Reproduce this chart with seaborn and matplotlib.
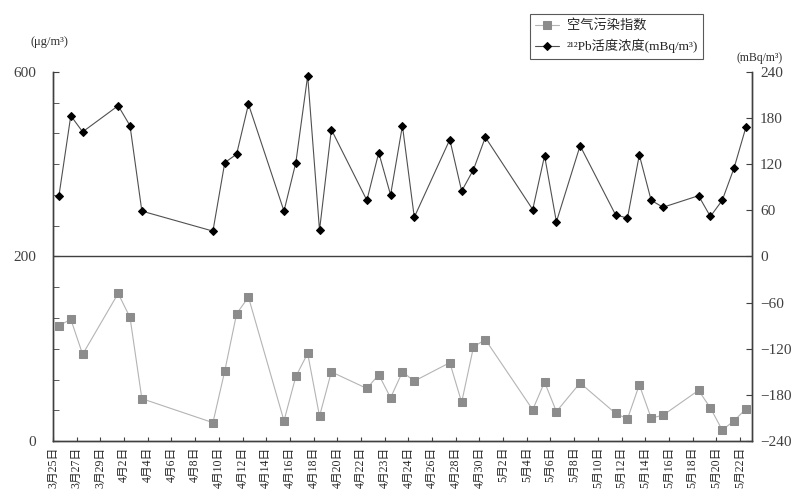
import seaborn as sns
import pandas as pd
import matplotlib.pyplot as plt
from matplotlib.ticker import FixedLocator, MultipleLocator

# category labels on the x axis (every second category is labelled)
date_labels = ["3月25日", "3月27日", "3月29日", "4月2日", "4月4日", "4月6日", "4月8日",
               "4月10日", "4月12日", "4月14日", "4月16日", "4月18日", "4月20日", "4月22日",
               "4月23日", "4月24日", "4月26日", "4月28日", "4月30日", "5月2日", "5月4日",
               "5月6日", "5月8日", "5月10日", "5月12日", "5月14日", "5月16日", "5月18日",
               "5月20日", "5月22日"]
n_categories = 59

# category index of each sampling day
sample_idx = [0, 1, 2, 5, 6, 7, 13, 14, 15, 16, 19, 20, 21, 22, 23, 26, 27, 28, 29, 30,
              33, 34, 35, 36, 40, 41, 42, 44, 47, 48, 49, 50, 51, 54, 55, 56, 57, 58]

# air pollution index (ug/m3), left axis
air_index = [125, 132, 94, 160, 134, 46, 20, 76, 138, 156, 22, 70, 95, 27, 75, 57, 72, 47, 75, 65,
             85, 42, 102, 110, 34, 64, 32, 63, 30, 24, 61, 25, 28, 55, 36, 12, 22, 35]

# 212Pb activity concentration (mBq/m3), right axis
pb_conc = [79, 183, 162, 196, 170, 59, 33, 122, 133, 198, 59, 122, 235, 34, 165, 73, 135, 80, 170, 51,
           152, 85, 113, 155, 61, 131, 45, 144, 54, 50, 132, 73, 64, 79, 52, 73, 115, 168]

left_ticks = [0, 200, 400]
left_tick_labels = ["0", "200", "600"]
right_ticks = [-240, -180, -120, -60, 0, 60, 120, 180, 240]

df = pd.DataFrame({"x": [i + 0.5 for i in sample_idx], "air": air_index, "pb": pb_conc})

sns.set_style("ticks")
plt.rcParams["font.family"] = ["Liberation Serif", "Noto Sans CJK SC", "DejaVu Sans"]
plt.rcParams["axes.edgecolor"] = "#404040"

fig = plt.figure(figsize=(7.95, 4.99), dpi=100)
ax = fig.add_axes([0.0667, 0.116, 0.879, 0.74])
ax2 = ax.twinx()

ax.axhline(200, color="#404040", lw=1.0, zorder=1)

sns.lineplot(data=df, x="x", y="air", ax=ax, color="#b4b4b4", lw=0.8, marker="s",
             markersize=6, markerfacecolor="#8c8c8c", markeredgecolor="#8c8c8c",
             label="空气污染指数", legend=False)
sns.lineplot(data=df, x="x", y="pb", ax=ax2, color="#505050", lw=0.8, marker="D",
             markersize=4, markerfacecolor="black", markeredgecolor="black",
             label="²¹²Pb活度浓度(mBq/m³)", legend=False)

ax.set_xlim(0, n_categories)
ax.set_ylim(0, 400)
ax2.set_ylim(-240, 240)

ax.xaxis.set_major_locator(FixedLocator(list(range(0, 2 * len(date_labels), 2))))
ax.set_xticklabels(date_labels, rotation=90, fontsize=8.5)
ax.yaxis.set_major_locator(FixedLocator(left_ticks))
ax.set_yticklabels(left_tick_labels, fontsize=11, color="#404040")
ax.yaxis.set_minor_locator(MultipleLocator(400 / 12))
ax2.set_yticks(right_ticks)
ax2.set_yticklabels([str(t).replace("-", "\u2212") for t in right_ticks], fontsize=11,
                    color="#404040")

ax.tick_params(axis="x", direction="in", length=3, color="#404040", pad=4)
ax.tick_params(axis="y", which="both", direction="in", length=4, color="#404040", pad=12)
ax2.tick_params(axis="y", direction="in", length=4, color="#404040", pad=6)

ax.set_xlabel("")
ax.set_ylabel("")
ax2.set_ylabel("")
for a in (ax, ax2):
    a.spines["top"].set_visible(False)
    a.spines["left"].set_linewidth(1.0)
    a.spines["right"].set_linewidth(1.0)
    a.spines["bottom"].set_linewidth(1.0)

fig.text(0.062, 0.915, "(μg/m³)", ha="center", va="center", fontsize=9, color="#303030")
fig.text(0.955, 0.883, "(mBq/m³)", ha="center", va="center", fontsize=8.5, color="#303030")

h1, l1 = ax.get_legend_handles_labels()
h2, l2 = ax2.get_legend_handles_labels()
leg = fig.legend(h1 + h2, l1 + l2, loc="upper left", bbox_to_anchor=(0.658, 0.985),
                 fontsize=9.5, frameon=True, fancybox=False, handlelength=1.8,
                 borderpad=0.4, labelspacing=0.5, handletextpad=0.6)
leg.get_frame().set_edgecolor("#303030")
leg.get_frame().set_linewidth(0.8)

fig.savefig("out.png", dpi=100)
